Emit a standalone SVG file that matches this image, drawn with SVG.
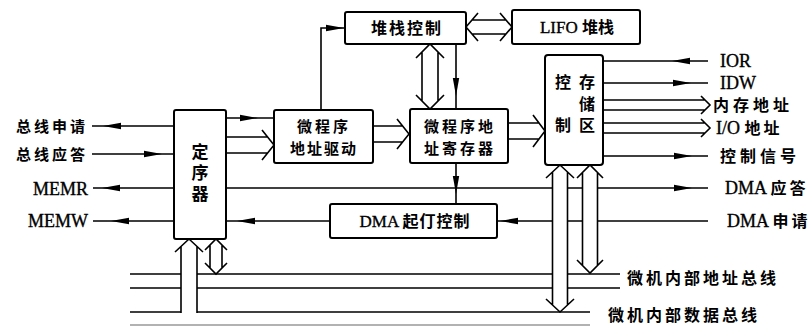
<svg xmlns="http://www.w3.org/2000/svg" width="812" height="327" viewBox="0 0 812 327">
<style>
.box{fill:#fff;stroke:#000;stroke-width:2}
.ln{fill:none;stroke:#000;stroke-width:1.6}
.hw{fill:#fff;stroke:none}
.hl{fill:none;stroke:#000;stroke-width:1.6;stroke-linejoin:miter}
.t{font-family:"Liberation Serif","Noto Sans CJK SC",serif;font-size:17px;fill:#000;stroke:#000;stroke-width:0.35}
.c{font-family:"Noto Sans CJK SC",sans-serif;font-weight:bold;font-size:15px;fill:#000;stroke:none}
.lat{font-family:"Liberation Serif",serif;font-size:18px;fill:#000;stroke:#000;stroke-width:0.35}
.v{writing-mode:vertical-rl}
</style>
<defs>
<path id="ah" d="M0,0 L-18,-3.2 L-18,3.2 Z"/>
</defs>
<rect width="812" height="327" fill="#fff"/>

<g id="connectors">
<path class="ln" d="M130,274 H620 M130,288 H620 M130,312 H590"/>
<path d="M130,325 H590" fill="none" stroke="#999" stroke-width="1.4"/>
<path class="ln" d="M92,126 H174 M92,154 H174 M93,188 H174 M93,221 H174"/>
<use href="#ah" transform="translate(103,126) rotate(180)"/>
<use href="#ah" transform="translate(162,154)"/>
<use href="#ah" transform="translate(102,188) rotate(180)"/>
<use href="#ah" transform="translate(111,221) rotate(180)"/>
<path class="ln" d="M226,118 H274"/>
<use href="#ah" transform="translate(258,118)"/>
<path class="ln" d="M226,188 H708"/>
<use href="#ah" transform="translate(692,188)"/>
<path class="ln" d="M330,221 H226"/>
<use href="#ah" transform="translate(237,221) rotate(180)"/>
<path class="ln" d="M497,221 H708"/>
<use href="#ah" transform="translate(500,221) rotate(180)"/>
<path class="ln" d="M603,61 H708 M603,83 H708 M603,156 H708"/>
<use href="#ah" transform="translate(672,61) rotate(180)"/>
<use href="#ah" transform="translate(691,83)"/>
<use href="#ah" transform="translate(692,156)"/>
<path class="ln" d="M321,110 V28 H345"/>
<use href="#ah" transform="translate(344,28)"/>
<path class="ln" d="M456,44 V109"/>
<use href="#ah" transform="translate(456,96) rotate(90)"/>
<path class="ln" d="M456,163 V204"/>
<use href="#ah" transform="translate(456,194) rotate(90)"/>

<polygon class="hw" points="226,137 267.6,137 274,145 267.6,153 226,153"/>
<path class="hl" d="M226,137 H267.6 M226,153 H267.6 M262,130 L274,145 L262,160"/>
<polygon class="hw" points="373,126 402.6,126 409,134 402.6,142 373,142"/>
<path class="hl" d="M373,126 H402.6 M373,142 H402.6 M397,119 L409,134 L397,149"/>
<polygon class="hw" points="508,123 539,123 545,131 539,139 508,139"/>
<path class="hl" d="M508,123 H539 M508,139 H539 M533,115 L545,131 L533,147"/>
<polygon class="hw" points="466,27 472,20 506,20 512,27 506,34 472,34"/>
<path class="hl" d="M472,20 H506 M472,34 H506 M478,13 L466,27 L478,41 M500,13 L512,27 L500,41"/>
<polygon class="hw" points="430,44 438,52 438,101 430,109 422,101 422,52"/>
<path class="hl" d="M422,52 V101 M438,52 V101 M416,58 L430,44 L444,58 M416,95 L430,109 L444,95"/>
<polygon class="hw" points="603,100 705,100 710,105 705,110 603,110"/>
<path class="hl" d="M603,100 H705 M603,110 H705 M701,96 L710,105 L701,114"/>
<polygon class="hw" points="603,123 705,123 710,128 705,133 603,133"/>
<path class="hl" d="M603,123 H705 M603,133 H705 M701,119 L710,128 L701,137"/>
<polygon class="hw" points="560,165 567.5,172 567.5,305 560,312 552.5,305 552.5,172"/>
<path class="hl" d="M552.5,172 V305 M567.5,172 V305 M546,178 L560,165 L574,178 M546,299 L560,312 L574,299"/>
<polygon class="hw" points="590,165 597.5,172.5 597.5,265.5 590,273 582.5,265.5 582.5,172.5"/>
<path class="hl" d="M582.5,172.5 V265.5 M597.5,172.5 V265.5 M577,178 L590,165 L603,178 M577,260 L590,273 L603,260"/>
<polygon class="hw" points="181,313 181,246 189,239 197,246 197,313"/>
<path class="hl" d="M181,313 V246 M197,313 V246 M175,252 L189,239 L203,252"/>
<polygon class="hw" points="216,239 222,245 222,268 216,274 210,268 210,245"/>
<path class="hl" d="M210,245 V268 M222,245 V268 M205,250 L216,239 L227,250 M205,263 L216,274 L227,263"/>
</g>

<g id="sequencer">
<rect class="box" x="174" y="110" width="52" height="129" rx="2"/>
<text class="c v" x="200" y="143" style="font-size:17px;letter-spacing:4px">定序器</text>
</g>

<g id="addr-drive">
<rect class="box" x="274" y="110" width="99" height="53" rx="2"/>
<text class="c" x="324" y="131.5" text-anchor="middle" style="letter-spacing:3px">微程序</text>
<text class="c" x="324" y="153.5" text-anchor="middle" style="letter-spacing:2px">地址驱动</text>
</g>

<g id="addr-reg">
<rect class="box" x="410" y="109" width="98" height="54" rx="2"/>
<text class="c" x="460" y="131.5" text-anchor="middle" style="letter-spacing:3px">微程序地</text>
<text class="c" x="460" y="153.5" text-anchor="middle" style="letter-spacing:3px">址寄存器</text>
</g>

<g id="stack-ctrl">
<rect class="box" x="345" y="12" width="121" height="32" rx="2"/>
<text class="c" x="407" y="34" text-anchor="middle" style="font-size:16px;letter-spacing:2px">堆栈控制</text>
</g>

<g id="lifo">
<rect class="box" x="512" y="10" width="128" height="34" rx="2"/>
<text class="t" x="577" y="33" text-anchor="middle">LIFO <tspan class="c" style="font-size:16px">堆栈</tspan></text>
</g>

<g id="ctrl-store">
<rect class="box" x="545" y="55" width="58" height="110" rx="3"/>
<text class="c" x="563" y="88" text-anchor="middle" style="font-size:16px">控</text>
<text class="c" x="563" y="131" text-anchor="middle" style="font-size:16px">制</text>
<text class="c v" x="587" y="74" style="font-size:16px;letter-spacing:5.5px">存储区</text>
</g>

<g id="dma-ctrl">
<rect class="box" x="330" y="204" width="167" height="34" rx="2"/>
<text class="t" x="415" y="227" text-anchor="middle">DMA <tspan class="c" style="font-size:16px;letter-spacing:1px">起仃控制</tspan></text>
</g>

<g id="labels">
<text class="c" x="88" y="132" text-anchor="end" style="letter-spacing:3px">总线申请</text>
<text class="c" x="88" y="160" text-anchor="end" style="letter-spacing:3px">总线应答</text>
<text class="lat" x="88" y="195" text-anchor="end">MEMR</text>
<text class="lat" x="88" y="227" text-anchor="end">MEMW</text>
<text class="lat" x="720" y="67">IOR</text>
<text class="lat" x="720" y="89">IDW</text>
<text class="c" x="713" y="111" style="font-size:16px;letter-spacing:4px">内存地址</text>
<text class="lat" x="716" y="134">I/O <tspan class="c" style="font-size:16px;letter-spacing:3px">地址</tspan></text>
<text class="c" x="720" y="162" style="font-size:16px;letter-spacing:4px">控制信号</text>
<text class="lat" x="725" y="194">DMA <tspan class="c" style="font-size:16px;letter-spacing:3px">应答</tspan></text>
<text class="lat" x="727" y="227">DMA <tspan class="c" style="font-size:16px;letter-spacing:3px">申请</tspan></text>
<text class="c" x="627" y="284" style="font-size:16px;letter-spacing:3px">微机内部地址总线</text>
<text class="c" x="608" y="321" style="font-size:16px;letter-spacing:3px">微机内部数据总线</text>
</g>
</svg>
